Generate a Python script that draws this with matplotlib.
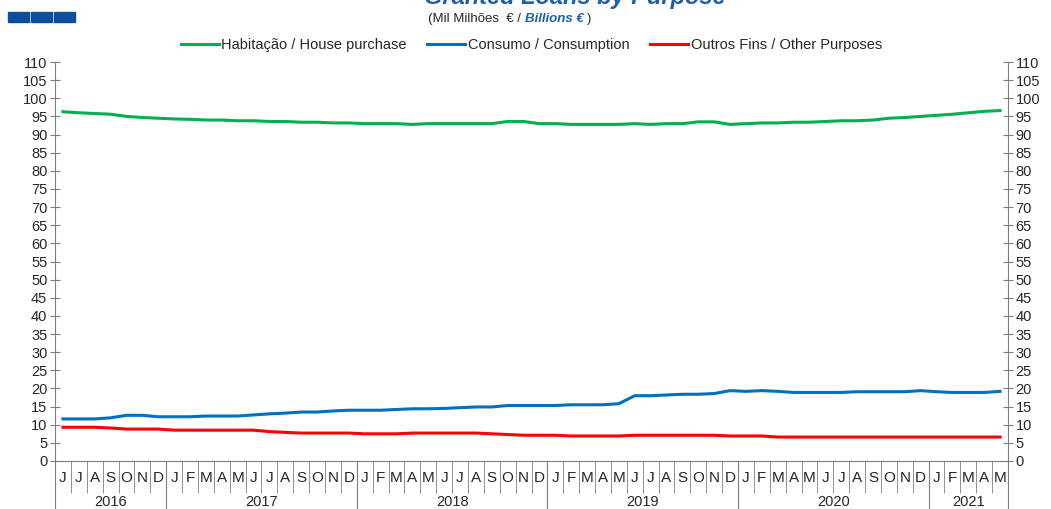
"""Granted loans by purpose"""

import numpy as np
from matplotlib import pyplot as plt
from matplotlib import transforms

plt.rcParams['font.family'] = ['Liberation Sans', 'DejaVu Sans']

months = ["J", "J", "A", "S", "O", "N", "D"] + ["J", "F", "M", "A", "M", "J", "J", "A", "S", "O", "N", "D"] * 4 + ["J", "F", "M", "A", "M"]
years = ["2016", "2017", "2018", "2019", "2020", "2021"]
year_len = [7, 12, 12, 12, 12, 5]

house = [96.3, 96.0, 95.8, 95.6, 95.0, 94.7, 94.5,
         94.3, 94.2, 94.0, 94.0, 93.8, 93.8, 93.6, 93.6, 93.4, 93.4, 93.2, 93.2,
         93.0, 93.0, 93.0, 92.8, 93.0, 93.0, 93.0, 93.0, 93.0, 93.6, 93.6, 93.0,
         93.0, 92.8, 92.8, 92.8, 92.8, 93.0, 92.8, 93.0, 93.0, 93.5, 93.5, 92.8,
         93.0, 93.2, 93.2, 93.4, 93.4, 93.6, 93.8, 93.8, 94.0, 94.5, 94.7, 95.0,
         95.3, 95.6, 96.0, 96.4, 96.6]
consumption = [11.6, 11.6, 11.6, 11.9, 12.6, 12.6, 12.2,
               12.2, 12.2, 12.4, 12.4, 12.4, 12.7, 13.0, 13.2, 13.5, 13.5, 13.8, 14.0,
               14.0, 14.0, 14.2, 14.4, 14.4, 14.5, 14.7, 14.9, 14.9, 15.3, 15.3, 15.3,
               15.3, 15.5, 15.5, 15.5, 15.8, 18.0, 18.0, 18.2, 18.4, 18.4, 18.6, 19.4,
               19.2, 19.4, 19.2, 18.9, 18.9, 18.9, 18.9, 19.1, 19.1, 19.1, 19.1, 19.4,
               19.1, 18.9, 18.9, 18.9, 19.2]
other = [9.3, 9.3, 9.3, 9.1, 8.8, 8.8, 8.8,
         8.5, 8.5, 8.5, 8.5, 8.5, 8.5, 8.1, 7.9, 7.7, 7.7, 7.7, 7.7,
         7.5, 7.5, 7.5, 7.7, 7.7, 7.7, 7.7, 7.7, 7.5, 7.3, 7.1, 7.1,
         7.1, 6.9, 6.9, 6.9, 6.9, 7.1, 7.1, 7.1, 7.1, 7.1, 7.1, 6.9,
         6.9, 6.9, 6.6, 6.6, 6.6, 6.6, 6.6, 6.6, 6.6, 6.6, 6.6, 6.6,
         6.6, 6.6, 6.6, 6.6, 6.6]

blue = "#1f5fa8"
grey = "#7f7f7f"
txt = "#262626"

fig = plt.figure(figsize=(10.51, 5.09), dpi=100)
ax = fig.add_axes([55/1051, 48/509, (1008-55)/1051, (447-48)/509])

x = np.arange(len(months))
ax.plot(x, house, color="#00b050", lw=2.2, label="Habitação / House purchase")
ax.plot(x, consumption, color="#0070c0", lw=2.2, label="Consumo / Consumption")
ax.plot(x, other, color="#ff0000", lw=2.2, label="Outros Fins / Other Purposes")

ax.set_xlim(-0.5, len(months) - 0.5)
ax.set_ylim(0, 110)
ax.set_yticks(np.arange(0, 111, 5))
ax.tick_params(axis="y", direction="inout", length=7, color=grey, labelsize=10.5,
               labelcolor=txt, right=True, labelright=True, pad=2)
ax.spines["top"].set_visible(False)
for s in ["left", "right", "bottom"]:
    ax.spines[s].set_color(grey)

# month / year separators
bounds = np.cumsum([0] + year_len) - 0.5
ax.set_xticks(bounds)
ax.set_xticklabels([])
ax.set_xticks(np.arange(len(months) + 1) - 0.5, minor=True)
ax.tick_params(axis="x", which="major", direction="out", length=40, color=grey)
ax.tick_params(axis="x", which="minor", direction="out", length=23, color=grey)

trans = transforms.blended_transform_factory(ax.transData, ax.transAxes)
for i, m in enumerate(months):
    ax.text(i, -0.043, m, transform=trans, ha="center", va="center", fontsize=11, color=txt)
for j, yr in enumerate(years):
    c = (bounds[j] + bounds[j + 1]) / 2
    ax.text(c, -0.103, yr, transform=trans, ha="center", va="center", fontsize=10.5, color=txt)

leg = ax.legend(loc="lower center", bbox_to_anchor=(0.5, 1.0), ncol=3, frameon=False,
                fontsize=10.5, handlelength=2.6, handletextpad=0.2, columnspacing=1.4,
                borderaxespad=0.3)
for t in leg.get_texts():
    t.set_color(txt)

# header
fig.text(575/1051, 1.005, "Granted Loans by Purpose", ha="center", va="center",
         fontsize=17, fontweight="bold", fontstyle="italic", color=blue)
fig.text(525/1051, 1 - 19/509, "(Mil Milhões  € / ", ha="right", va="center", fontsize=9.5, color=txt)
fig.text(525/1051, 1 - 19/509, "Billions €", ha="left", va="center", fontsize=9.5,
         fontweight="bold", fontstyle="italic", color=blue)
fig.text(587/1051, 1 - 19/509, ")", ha="left", va="center", fontsize=9.5, color=txt)
for k in range(3):
    fig.patches.append(plt.Rectangle(((8 + k*23)/1051, 1 - 22/509), 21/1051, 10/509,
                                     transform=fig.transFigure, color="#0a4f9c"))

fig.savefig("out.png", dpi=100)
